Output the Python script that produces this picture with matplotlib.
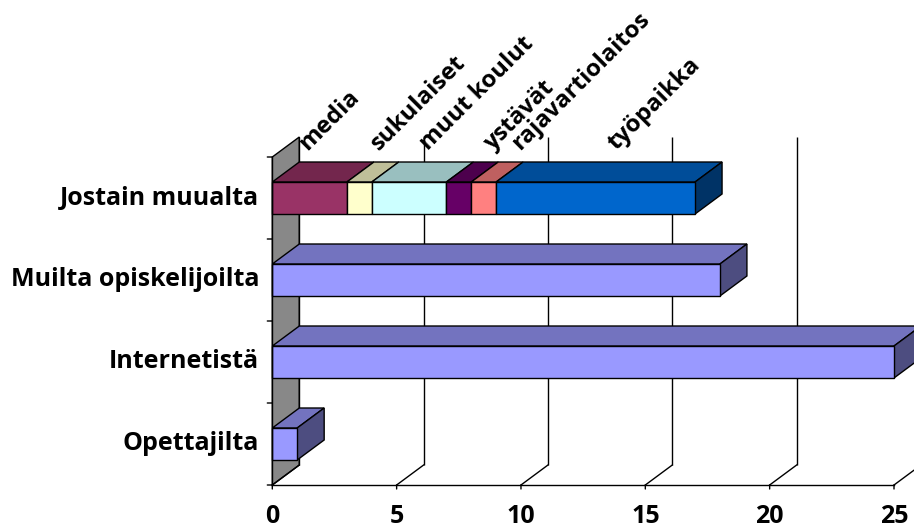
import matplotlib
matplotlib.use("Agg")
import matplotlib.pyplot as plt
from matplotlib.patches import Polygon
from matplotlib.colors import to_rgb
import numpy as np

# Categories, bottom to top
categories = ["Opettajilta", "Internetistä", "Muilta opiskelijoilta", "Jostain muualta"]
simple_values = [1, 25, 18]          # first three categories

# Breakdown of "Jostain muualta"
other_labels = ["media", "sukulaiset", "muut koulut", "ystävät", "rajavartiolaitos", "työpaikka"]
other_values = [3, 1, 3, 1, 1, 8]

x_ticks = [0, 5, 10, 15, 20, 25]

# Styling
simple_color = "#9999FF"
other_colors = ["#993366", "#FFFFCC", "#CCFFFF", "#660066", "#FF8080", "#0066CC"]
wall_color = "#888888"
label_x = [1.4, 4.3, 6.25, 8.85, 9.95, 13.85]   # start of each rotated series label (value units)
FONT = "Open Sans"
FS = 18

fig = plt.figure(figsize=(9.14, 5.28), dpi=100)
W, H = 914, 528
ax = fig.add_axes([272.3 / W, (H - 485) / H, (894 - 272.3) / W, 328 / H])
ax.set_xlim(0, 25)
ax.set_ylim(-0.5, 3.5)
ax.axis("off")

# depth of the 3D box, converted from pixels into data units
p0 = ax.transData.transform((0, 0))
dx, dy = ax.transData.inverted().transform(p0 + np.array([27, 20]))

LW = 1.0


def shade(c, f):
    r, g, b = to_rgb(c)
    return (r * f, g * f, b * f)


def poly(pts, fc, z):
    ax.add_patch(Polygon(pts, closed=True, facecolor=fc, edgecolor="black",
                         linewidth=LW, clip_on=False, zorder=z, joinstyle="miter"))


ymin, ymax = -0.5, 3.5

# left wall
poly([(0, ymin), (0, ymax), (dx, ymax + dy), (dx, ymin + dy)], wall_color, 1)

# gridlines: back wall verticals and floor diagonals
for v in x_ticks:
    ax.plot([v + dx, v + dx], [ymin + dy, ymax + dy], color="black", lw=LW,
            clip_on=False, zorder=1.5, solid_capstyle="butt")
    ax.plot([v, v + dx], [ymin, ymin + dy], color="black", lw=LW,
            clip_on=False, zorder=1.5)

BH = 0.39  # bar thickness in category units


def box(left, right, yc, color, z, side=True):
    y0, y1 = yc - BH / 2, yc + BH / 2
    poly([(left, y1), (right, y1), (right + dx, y1 + dy), (left + dx, y1 + dy)],
         shade(color, 0.75), z)
    if side:
        poly([(right, y0), (right, y1), (right + dx, y1 + dy), (right + dx, y0 + dy)],
             shade(color, 0.5), z)
    poly([(left, y0), (right, y0), (right, y1), (left, y1)], color, z + 0.1)


# single-value bars
for i, v in enumerate(simple_values):
    box(0, v, i, simple_color, 3)

# stacked bar
edges = np.concatenate([[0], np.cumsum(other_values)])
for k, (l, r) in enumerate(zip(edges[:-1], edges[1:])):
    box(l, r, 3, other_colors[k], 3 + k * 0.2, side=(k == len(other_values) - 1))

# front axes
ax.plot([0, 0], [ymin, ymax], color="black", lw=LW, clip_on=False, zorder=5)
ax.plot([0, 25], [ymin, ymin], color="black", lw=LW, clip_on=False, zorder=5)
for b in np.arange(ymin, ymax + 0.01, 1.0):
    ax.annotate("", xy=(0, b), xytext=(-5, 0), textcoords="offset pixels",
                arrowprops=dict(arrowstyle="-", lw=LW, color="black",
                                shrinkA=0, shrinkB=0), annotation_clip=False)
for v in x_ticks:
    ax.annotate("", xy=(v, ymin), xytext=(0, -4), textcoords="offset pixels",
                arrowprops=dict(arrowstyle="-", lw=LW, color="black",
                                shrinkA=0, shrinkB=0), annotation_clip=False)
    ax.annotate(str(v), xy=(v, ymin), xytext=(0, -38), textcoords="offset pixels",
                ha="center", va="baseline", fontsize=FS, fontweight="bold",
                family=FONT, annotation_clip=False)

for i, c in enumerate(categories):
    ax.annotate(c, xy=(0, i), xytext=(-13, 0), textcoords="offset pixels",
                ha="right", va="center", fontsize=FS, fontweight="bold",
                family=FONT, annotation_clip=False)

# series labels above the stacked bar
for lab, lx in zip(other_labels, label_x):
    ax.text(lx, 3.575, lab, rotation=45, rotation_mode="anchor", ha="left",
            va="baseline", fontsize=17.3, fontweight="bold", family=FONT,
            clip_on=False)

fig.savefig("out.png", dpi=100)
